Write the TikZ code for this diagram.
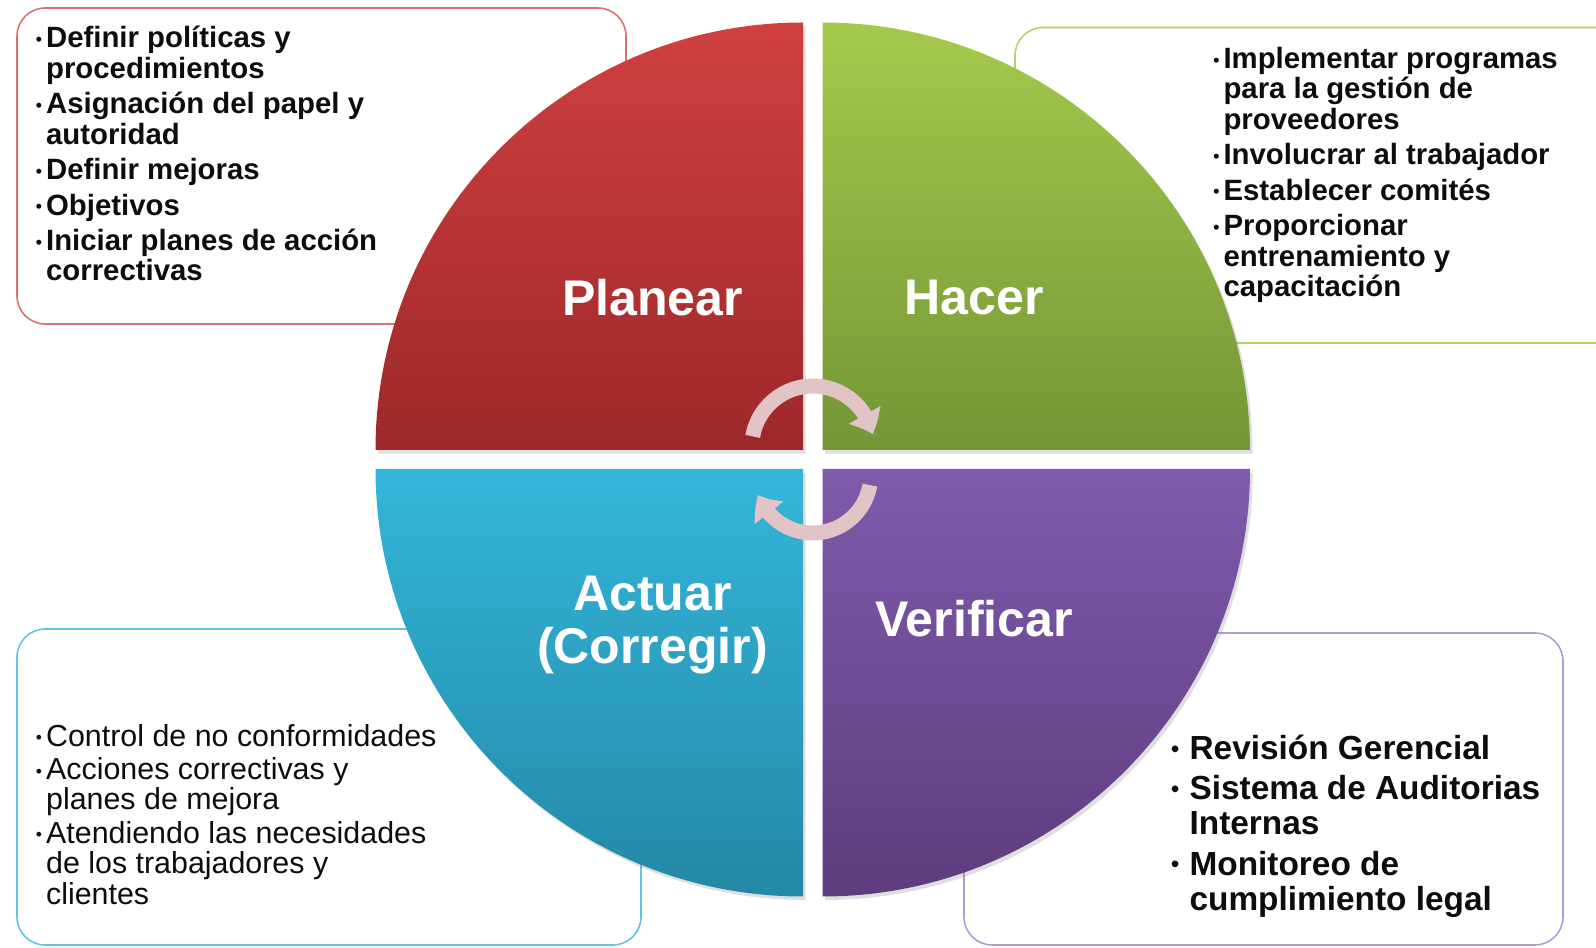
\documentclass[tikz,border=0pt]{standalone}
\usepackage{fontspec}
\setmainfont{Liberation Sans}
\usepackage{xcolor}
\usepackage{tikz}
\usetikzlibrary{arrows.meta,bending,shadows}
\definecolor{pdcred}{RGB}{208,64,64}
\definecolor{pdcreddark}{RGB}{156,40,42}
\definecolor{pdcgreen}{RGB}{164,202,76}
\definecolor{pdcgreendark}{RGB}{116,150,54}
\definecolor{pdcblue}{RGB}{52,182,218}
\definecolor{pdcbluedark}{RGB}{36,136,166}
\definecolor{pdcpurple}{RGB}{128,90,172}
\definecolor{pdcpurpledark}{RGB}{94,60,126}
\definecolor{pdcarrow}{RGB}{226,196,199}
\newcommand{\bul}{\makebox[5.8pt][l]{\fontsize{10}{10}\selectfont\raisebox{1.3pt}{•}}}
\newcommand{\ind}{\hspace*{5.8pt}}
\newcommand{\bigbul}{\makebox[10.6pt][l]{\fontsize{14}{14}\mdseries\selectfont\raisebox{1.3pt}{•}}}
\newcommand{\bigind}{\hspace*{10.6pt}}

\tikzset{
    notebox/.style={rounded corners=16pt, line width=0.9pt, fill=white},
    quarter/.style={drop shadow={opacity=0.25, shadow xshift=1.5pt, shadow yshift=-2pt}},
    phase/.style={text=white, align=center, font=\fontsize{28.5}{30}\selectfont\bfseries},
    notetext/.style={align=left, text=black!95, font=\fontsize{16.7}{17.3}\selectfont\bfseries},
    cyclearrow/.style={line width=8.5pt, pdcarrow, -{Triangle[length=12pt, width=20pt, bend]}}
}

\begin{document}
\begin{tikzpicture}[x=0.02cm, y=0.02cm, every node/.style={inner sep=0pt}]
    \useasboundingbox (0,0) rectangle (1596,947);

    % note boxes behind the cycle
    \draw[notebox, draw=pdcred!75] (17,623) rectangle (626,939);
    \draw[notebox, draw=pdcgreen!85] (1015,604) rectangle (1640,919.5);
    \draw[notebox, draw=pdcblue!80] (17,2) rectangle (641,318);
    \draw[notebox, draw=pdcpurple!60] (964,2) rectangle (1563,314);

    % the four quarters
    \shade[quarter, top color=pdcred, bottom color=pdcreddark]
        (803,497) -- ++(-427.5,0) arc[start angle=180, end angle=90, radius=427.5] -- cycle;
    \shade[quarter, top color=pdcgreen, bottom color=pdcgreendark]
        (822.5,497) -- ++(0,427.5) arc[start angle=90, end angle=0, radius=427.5] -- cycle;
    \shade[quarter, top color=pdcblue, bottom color=pdcbluedark]
        (803,478) -- ++(0,-427.5) arc[start angle=270, end angle=180, radius=427.5] -- cycle;
    \shade[quarter, top color=pdcpurple, bottom color=pdcpurpledark]
        (822.5,478) -- ++(427.5,0) arc[start angle=0, end angle=-90, radius=427.5] -- cycle;

    % phase names
    \node[phase] (plan) at (652.5,649) {Planear};
    \node[phase] (hacer) at (974,649) {Hacer};
    \node[phase] (actuar) at (652.5,322) {Actuar\\(Corregir)};
    \node[phase] (verif) at (974,328) {Verificar};

    % cycle arrows
    \draw[cyclearrow] (752.7,510.6) arc[start angle=170, end angle=12, radius=61];
    \draw[cyclearrow] (869.9,461.9) arc[start angle=-10, end angle=-160, radius=58];

    % notes (base = last line)
    \node[notetext, anchor=base west] (plantxt) at (35.6,666) {\bul Definir políticas y\\
        \ind procedimientos\\[2.9pt]
        \bul Asignación del papel y\\
        \ind autoridad\\[2.9pt]
        \bul Definir mejoras\\[2.9pt]
        \bul Objetivos\\[2.9pt]
        \bul Iniciar planes de acción\\
        \ind correctivas};
    \node[notetext, anchor=base west] (hacertxt) at (1213,650.5) {\bul Implementar programas\\
        \ind para la gestión de\\
        \ind proveedores\\[2.9pt]
        \bul Involucrar al trabajador\\[2.9pt]
        \bul Establecer comités\\[2.9pt]
        \bul Proporcionar\\
        \ind entrenamiento y\\
        \ind capacitación};
    \node[notetext, anchor=base west, font=\fontsize{17.3}{17.3}\selectfont] (actuartxt) at (35.6,43) {\bul Control de no conformidades\\[1.7pt]
        \bul Acciones correctivas y\\
        \ind planes de mejora\\[1.7pt]
        \bul Atendiendo las necesidades\\
        \ind de los trabajadores y\\
        \ind clientes};
    \node[notetext, anchor=base west, font=\fontsize{19}{19.9}\selectfont\bfseries] (veriftxt) at (1170.6,37) {\bigbul Revisión Gerencial\\[3pt]
        \bigbul Sistema de Auditorias\\
        \bigind Internas\\[3pt]
        \bigbul Monitoreo de\\
        \bigind cumplimiento legal};
\end{tikzpicture}
\end{document}
